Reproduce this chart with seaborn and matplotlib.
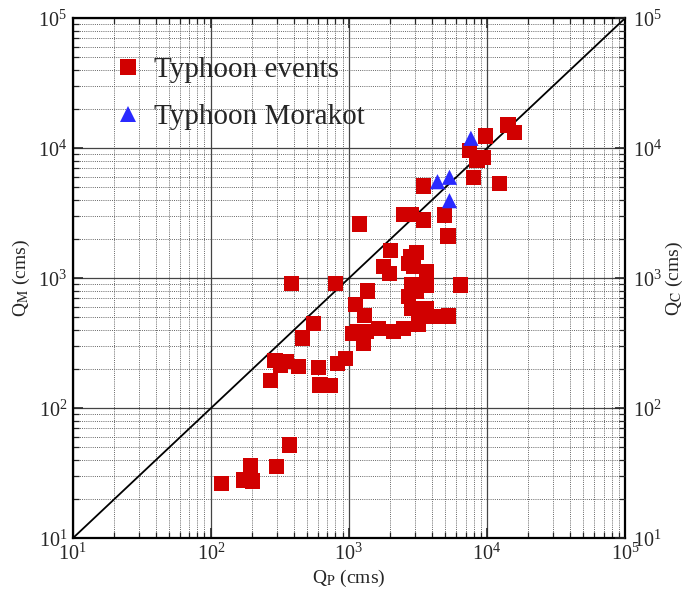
import numpy as np
import pandas as pd
import matplotlib
matplotlib.use("Agg")
import matplotlib.pyplot as plt
import seaborn as sns
from matplotlib.ticker import LogLocator, NullFormatter

# ---- data ----
events_qp = [120, 172, 201, 193, 299, 374, 272, 619, 732, 292, 355, 318, 431, 603,
             827, 951, 554, 463, 386, 805, 1065, 1148, 1350, 1639, 1276, 1124, 1291,
             1373, 1193, 2105, 2487, 3194, 2861, 3675, 3882, 4587, 5269, 2861, 3675,
             2704, 3110, 6407, 2015, 3110, 2704, 2938, 3631, 1781, 1959, 2781, 2487,
             2861, 3473, 4905, 5217, 3473, 7998, 12274, 7478, 9354, 8463, 9720,
             14190, 15850]
events_qm = [26.5, 28.1, 27.6, 36, 35.5, 52.2, 164, 151, 150, 232, 230, 215, 209, 205,
             222, 242, 448, 347, 915, 915, 378, 388, 390, 412, 316, 631, 515,
             798, 2617, 390, 412, 445, 588, 588, 507, 507, 512, 888, 888,
             722, 789, 888, 1631, 1574, 1304, 1228, 1124, 1228, 1091, 1466, 3106,
             3106, 2809, 3069, 2116, 5129, 5986, 5381, 9583, 8526, 8030, 12434,
             15100, 13280]
morakot_qp = [7656, 4385, 5356, 5356]
morakot_qm = [11940, 5535, 5986, 3954]

series_names = ["Typhoon events", "Typhoon Morakot"]
line_x = [1e1, 1e5]
line_y = [1e1, 1e5]

df = pd.DataFrame({
    "QP": events_qp + morakot_qp,
    "QM": events_qm + morakot_qm,
    "group": [series_names[0]] * len(events_qp) + [series_names[1]] * len(morakot_qp),
})

sns.set_style("ticks")
plt.rcParams["font.family"] = ["Liberation Serif", "DejaVu Serif"]
plt.rcParams["mathtext.fontset"] = "stix"

fig = plt.figure(figsize=(6.88, 5.92), dpi=100)
ax = fig.add_axes([0.1057, 0.0907, 0.9084 - 0.1057, 0.9691 - 0.0907])

ax.set_xscale("log")
ax.set_yscale("log")
ax.set_xlim(1e1, 1e5)
ax.set_ylim(1e1, 1e5)

# grid
ax.grid(True, which="major", color="#444444", linewidth=0.9, linestyle="-")
ax.grid(True, which="minor", color="#666666", linewidth=0.7, linestyle=(0, (1, 1.2)))
ax.set_axisbelow(True)

sns.lineplot(x=line_x, y=line_y, ax=ax, color="black", linewidth=1.3, zorder=2)

sns.scatterplot(data=df, x="QP", y="QM", hue="group", style="group",
                palette={series_names[0]: "#d10000", series_names[1]: "#2a2aff"},
                markers={series_names[0]: "s", series_names[1]: "^"},
                s=120, linewidth=0, ax=ax, zorder=3, legend=True)

ax.xaxis.set_major_locator(LogLocator(base=10, numticks=10))
ax.yaxis.set_major_locator(LogLocator(base=10, numticks=10))
ax.xaxis.set_minor_locator(LogLocator(base=10, subs=np.arange(2, 10), numticks=20))
ax.yaxis.set_minor_locator(LogLocator(base=10, subs=np.arange(2, 10), numticks=20))
ax.xaxis.set_minor_formatter(NullFormatter())
ax.yaxis.set_minor_formatter(NullFormatter())

ax.tick_params(which="major", direction="in", length=7, width=1.2, labelsize=14.5,
               top=True, right=True, pad=4)
ax.tick_params(which="minor", direction="in", length=4, width=0.9, top=True, right=True)

for sp in ax.spines.values():
    sp.set_linewidth(1.6)
    sp.set_color("black")

ax.set_xlabel("Q$_{\\rm P}$ (cms)", fontsize=14, labelpad=2)
ax.set_ylabel("Q$_{\\rm M}$ (cms)", fontsize=14, labelpad=4)

# right axis
ax2 = ax.twinx()
ax2.set_yscale("log")
ax2.set_ylim(1e1, 1e5)
ax2.yaxis.set_major_locator(LogLocator(base=10, numticks=10))
ax2.yaxis.set_minor_locator(LogLocator(base=10, subs=np.arange(2, 10), numticks=20))
ax2.yaxis.set_minor_formatter(NullFormatter())
ax2.tick_params(which="major", direction="in", length=7, width=1.2, labelsize=14.5, pad=6)
ax2.tick_params(which="minor", direction="in", length=4, width=0.9)
ax2.set_ylabel("Q$_{\\rm C}$ (cms)", fontsize=14, labelpad=1)
for sp in ax2.spines.values():
    sp.set_visible(False)

# legend
handles, labels = ax.get_legend_handles_labels()
leg = ax.legend(handles=handles, labels=labels, loc="upper left",
                bbox_to_anchor=(0.02, 0.977), frameon=False, fontsize=21,
                handletextpad=0.3, labelspacing=0.7, markerscale=1.0,
                handlelength=1.2)

fig.savefig("out.png", dpi=100)
